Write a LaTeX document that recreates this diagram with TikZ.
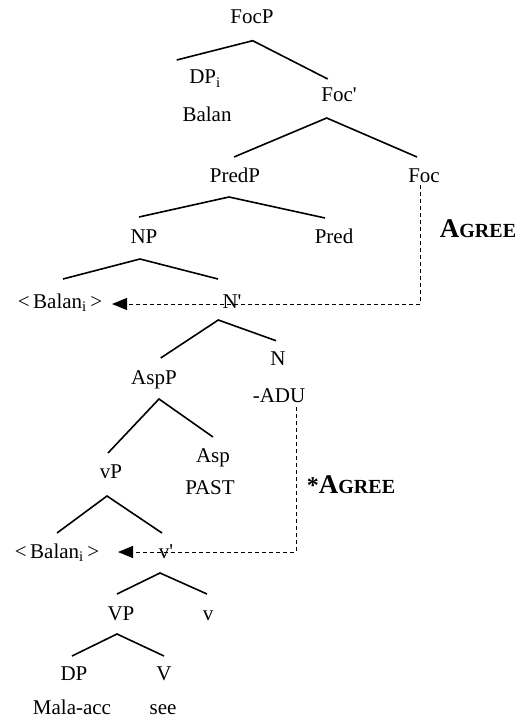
\documentclass[tikz,border=0pt]{standalone}
\usepackage{fontspec}
\setmainfont{Liberation Serif}[Ligatures=TeXOff]
\usetikzlibrary{arrows.meta}
\newcommand\agreeword{\bfseries{\fontsize{27}{30}\selectfont A}{\fontsize{20}{24}\selectfont GREE}}
\begin{document}
\begin{tikzpicture}[x=1pt,y=-1pt,
  lbl/.style={anchor=base,inner sep=0pt,font=\fontsize{21}{25}\selectfont},
  br/.style={line width=1.6pt},
  agr/.style={line width=1pt,dash pattern=on 4pt off 3pt,-{Triangle[length=15pt,width=12pt]}},
]
\useasboundingbox (0,0) rectangle (522,719);
% labels
\node[lbl] (FocP) at (252,23.5) {FocP};
\node[lbl] (DPi) at (205,84) {DP\textsubscript{i}};
\node[lbl] (Balan0) at (207,122) {Balan};
\node[lbl] (Focbar) at (339,102) {Foc'};
\node[lbl] (PredP) at (235,183) {PredP};
\node[lbl] (Foc) at (424,183) {Foc};
\node[lbl] (NP) at (144,243) {NP};
\node[lbl] (Pred) at (334,243) {Pred};
\node[lbl] (Balan1) at (60,308) {<\,Balan\textsubscript{i}\,>};
\node[lbl] (Nbar) at (232,308) {N'};
\node[lbl] (N) at (278,365) {N};
\node[lbl] (ADU) at (279,402) {-ADU};
\node[lbl] (AspP) at (154,384) {AspP};
\node[lbl] (Asp) at (213,462) {Asp};
\node[lbl] (PAST) at (210,494) {PAST};
\node[lbl] (vP) at (111,478) {vP};
\node[lbl] (Balan2) at (57,558) {<\,Balan\textsubscript{i}\,>};
\node[lbl] (vbar) at (166,558) {v'};
\node[lbl] (VP) at (121,620) {VP};
\node[lbl] (v) at (208,620) {v};
\node[lbl] (DP) at (74,680) {DP};
\node[lbl] (V) at (164,680) {V};
\node[lbl] (Mala) at (72,714) {Mala-acc};
\node[lbl] (see) at (163,714) {see};
\node[anchor=base,inner sep=0pt] (agree1) at (478,237) {\agreeword};
\node[anchor=base,inner sep=0pt] (agree2) at (351,493) {{\fontsize{24}{26}\selectfont\bfseries *}\agreeword};
% branch points
\coordinate (a1) at (252.7,40.7); \coordinate (a1l) at (176.7,60); \coordinate (a1r) at (327.7,79);
\coordinate (a2) at (326.7,118); \coordinate (a2l) at (234,157); \coordinate (a2r) at (417,157);
\coordinate (a3) at (229,197); \coordinate (a3l) at (139,217); \coordinate (a3r) at (325,218);
\coordinate (a4) at (140,259); \coordinate (a4l) at (63,279); \coordinate (a4r) at (218,279);
\coordinate (a5) at (218.3,320); \coordinate (a5l) at (160.7,358); \coordinate (a5r) at (276,340.7);
\coordinate (a6) at (159,399); \coordinate (a6l) at (108,453); \coordinate (a6r) at (213,437);
\coordinate (a7) at (107,496); \coordinate (a7l) at (57,533); \coordinate (a7r) at (162,533);
\coordinate (a8) at (160,573); \coordinate (a8l) at (117,594); \coordinate (a8r) at (207,594);
\coordinate (a9) at (117,634); \coordinate (a9l) at (72,656); \coordinate (a9r) at (164,656);
\foreach \i in {1,...,9}{\draw[br] (a\i l) -- (a\i) -- (a\i r);}
% agree paths
\coordinate (t1) at (112,304);
\coordinate (t2) at (118,552);
\draw[agr] (Foc.south -| 420.7,0) ++(0,2) |- (t1);
\draw[agr] (ADU.south -| 296,0) ++(0,5) |- (t2);
\end{tikzpicture}
\end{document}
